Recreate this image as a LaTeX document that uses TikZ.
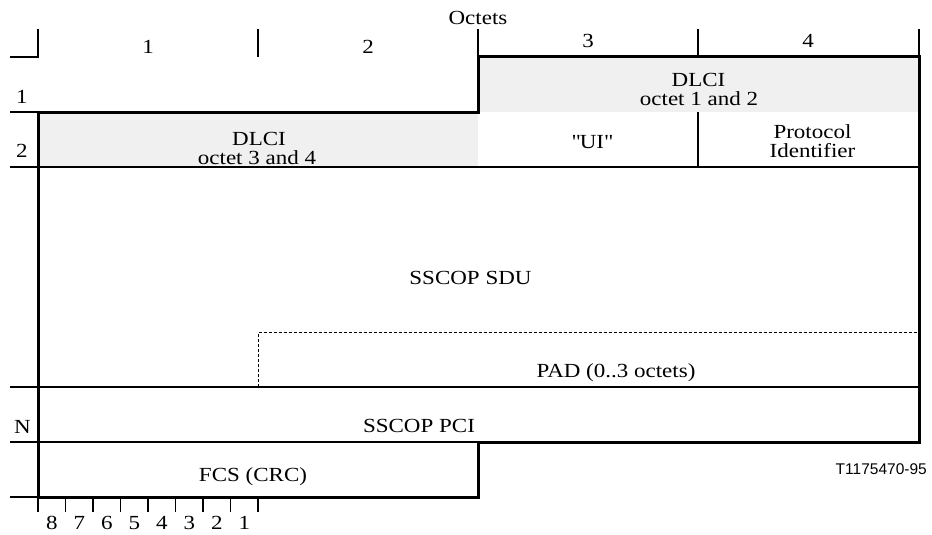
\documentclass[tikz,border=0pt]{standalone}
\usepackage{fontspec}
\setmainfont{Liberation Serif}[FakeStretch=1.15]
\newfontfamily\figsans{Liberation Sans}
\begin{document}
\begin{tikzpicture}[x=1pt,y=-1pt,
  thinline/.style={line width=1.1pt,black},
  thickline/.style={line width=3pt,black,line join=miter},
  dashline/.style={line width=1pt,black,dash pattern=on 3pt off 2pt},
  shade/.style={fill=black!6},
  txt/.style={inner sep=0pt,anchor=base,text height=13.5pt,text depth=3.5pt,
    font=\fontsize{20}{22}\selectfont},
  idtxt/.style={inner sep=0pt,anchor=base east,font=\figsans\fontsize{15.5}{17}\selectfont}]
\useasboundingbox (0,0) rectangle (932,535);

% shaded fields
\fill[shade] (478,57) rectangle (919,112);
\fill[shade] (38,112) rectangle (478,167);

% header ticks
\draw[thinline] (10,57) -- (38,57) -- (38,29);
\foreach \x in {258,478,698,919} \draw[thinline] (\x,29) -- (\x,57);

% row separators
\draw[thinline] (10,112) -- (38,112);
\draw[thinline] (10,167) -- (919,167);
\draw[thinline] (10,387) -- (919,387);
\draw[thinline] (10,442) -- (478,442);
\draw[thinline] (10,497) -- (38,497);
\draw[thinline] (698,112) -- (698,167);

% bottom bit ticks
\foreach \i in {0,...,8} \draw[thinline] (38+27.5*\i,497) -- (38+27.5*\i,512);

% padding boundary
\draw[dashline] (258,387) -- (258,332.5) -- (919,332.5);

% outer thick outline
\draw[thickline] (478,57) -- (919,57) -- (919,442) -- (478,442) -- (478,497)
  -- (38,497) -- (38,112) -- (478,112) -- cycle;

% texts
\node[txt] (oct) at (478,25) {Octets};
\node[txt] (c1) at (148,53.5) {1};
\node[txt] (c2) at (368,53.5) {2};
\node[txt] (c3) at (588,48) {3};
\node[txt] (c4) at (808,48) {4};
\node[txt] (r1) at (22,103) {1};
\node[txt] (r2) at (22,157) {2};
\node[txt] (rN) at (22.5,433) {N};
\node[txt] (dlciA) at (698.5,86) {DLCI};
\node[txt] (dlciAo) at (699,105) {octet 1 and 2};
\node[txt] (dlciB) at (259,145) {DLCI};
\node[txt] (dlciBo) at (257,164) {octet 3 and 4};
\node[txt] (ui) at (592,148) {\textquotedbl UI\textquotedbl};
\node[txt] (prot) at (812.5,138) {Protocol};
\node[txt] (ident) at (812.5,157) {Identifier};
\node[txt] (sdu) at (470.5,284) {SSCOP SDU};
\node[txt] (pad) at (616,377) {PAD (0..3 octets)};
\node[txt] (pci) at (419,432) {SSCOP PCI};
\node[txt] (fcs) at (253,481) {FCS (CRC)};
\node[idtxt] (tid) at (927,474) {T1175470-95};
\foreach \b [count=\i from 0] in {8,7,6,5,4,3,2,1}
  \node[txt] (bit\b) at (51.75+27.5*\i,529) {\b};
\end{tikzpicture}
\end{document}
